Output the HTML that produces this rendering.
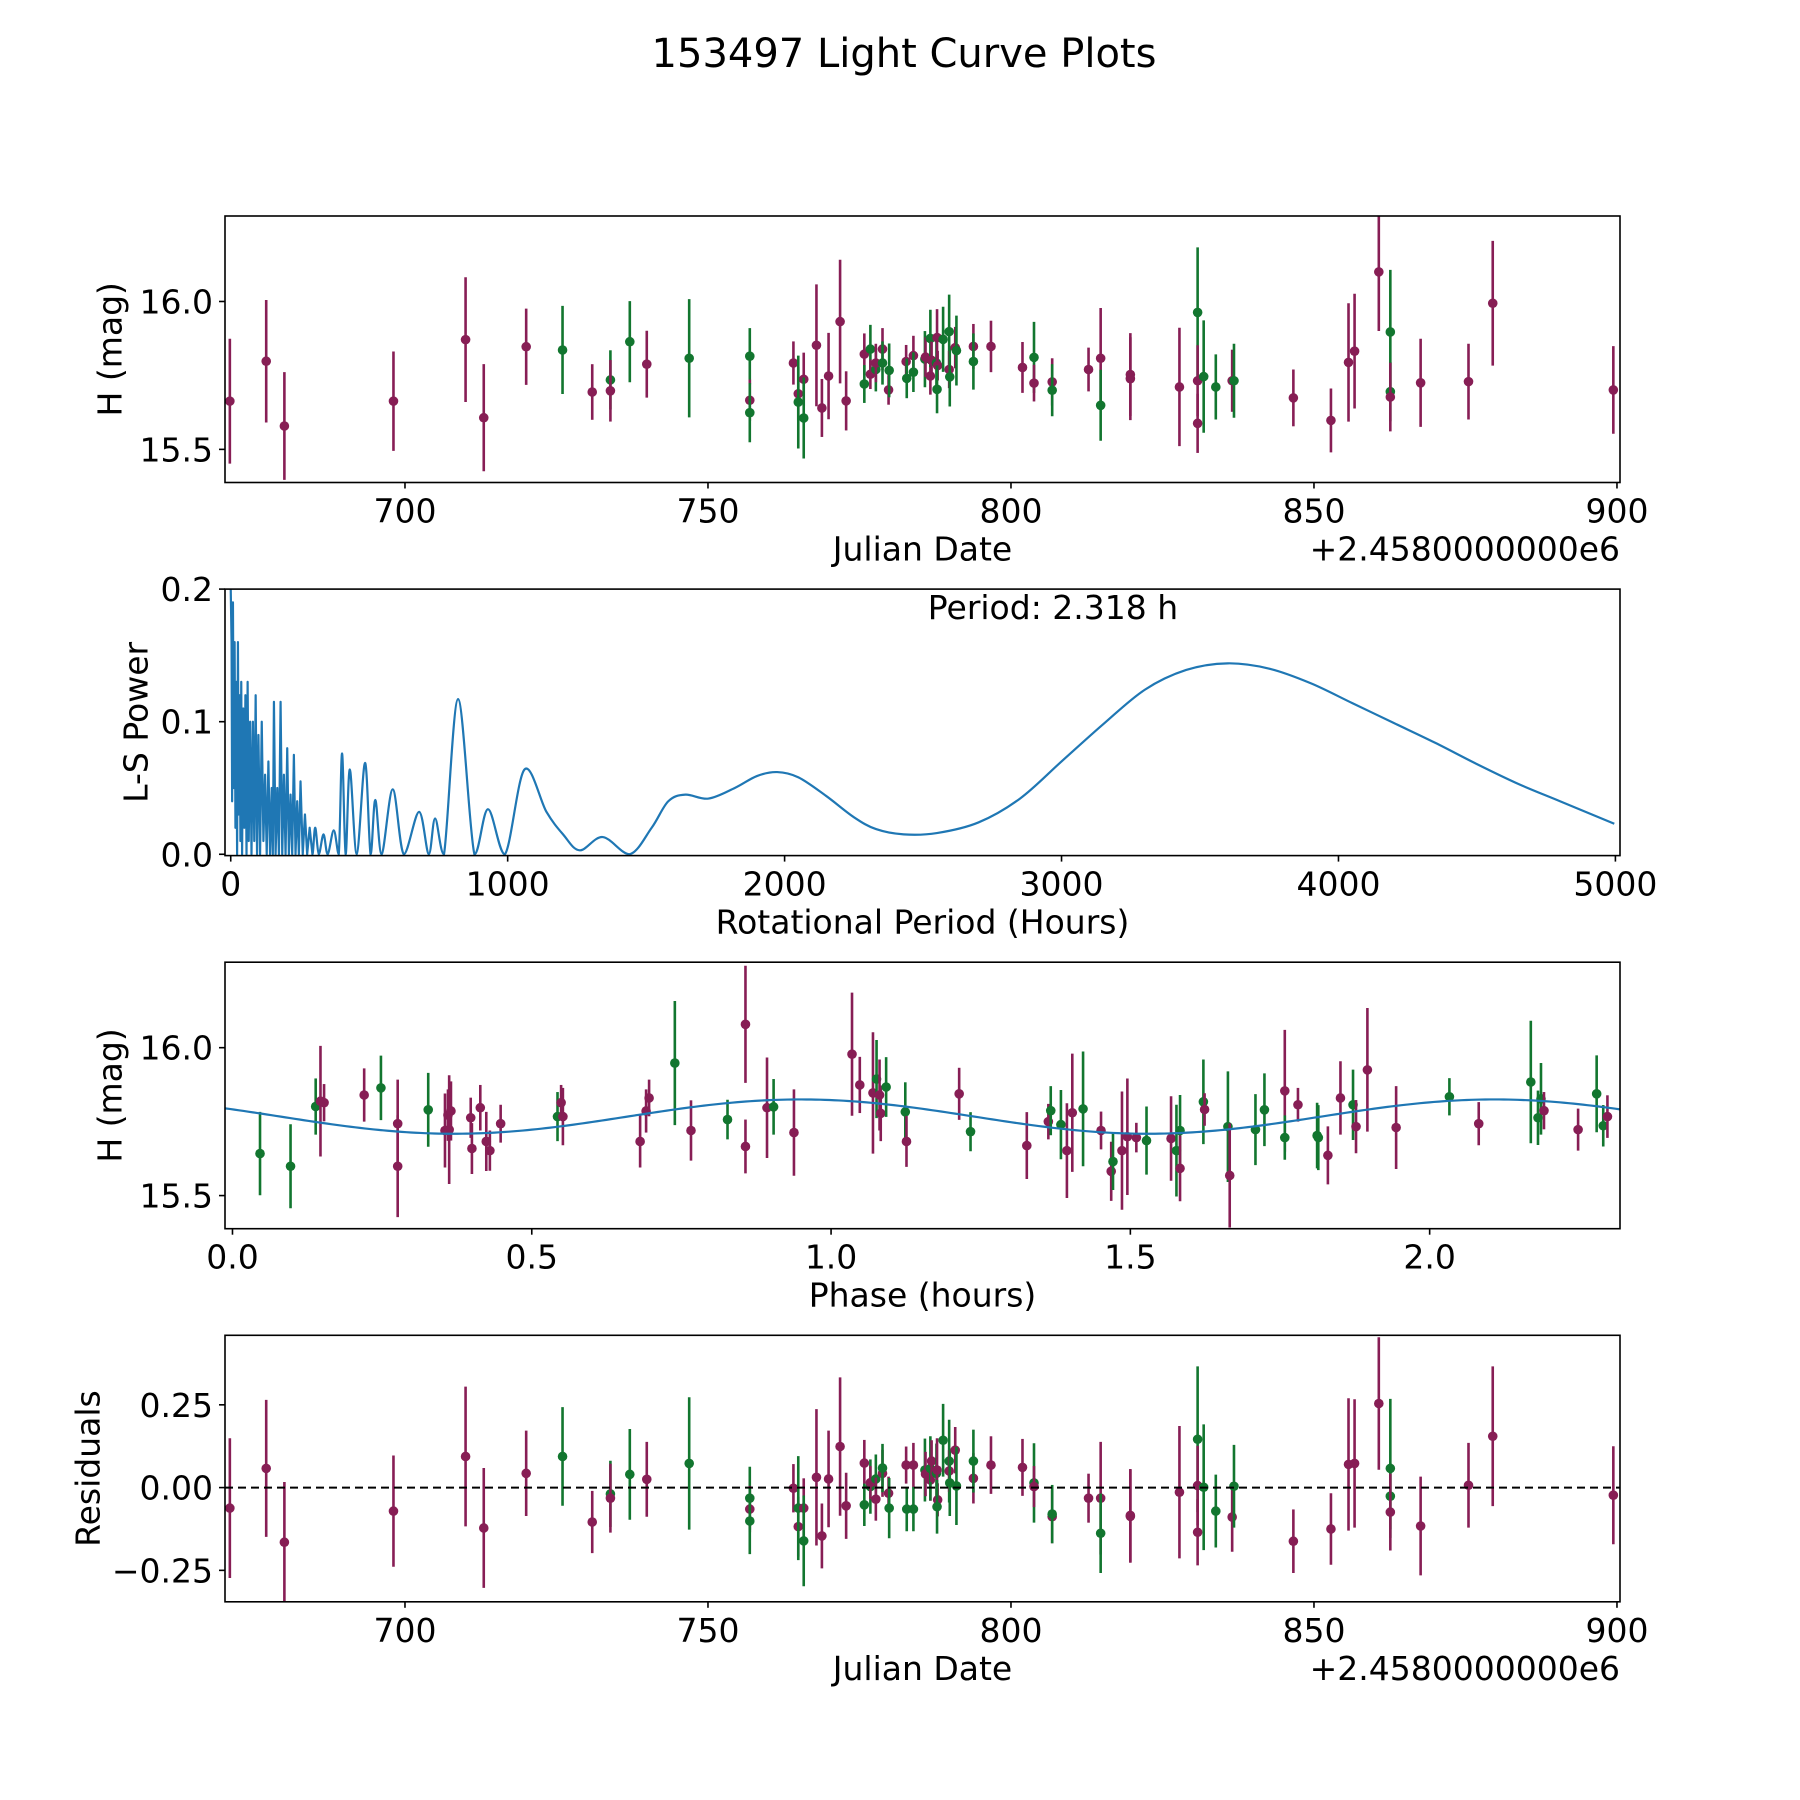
<!DOCTYPE html>
<html><head><meta charset="utf-8"><title>153497 Light Curve Plots</title>
<style>
html,body{margin:0;padding:0;background:#fff;}
svg{display:block;font-family:"DejaVu Sans","Liberation Sans",sans-serif;}
</style></head>
<body>
<svg id="fig" xmlns="http://www.w3.org/2000/svg" width="1800" height="1800" viewBox="0 0 1800 1800">
<rect width="1800" height="1800" fill="#fff"/>
<text x="904" y="67" font-size="40" text-anchor="middle">153497 Light Curve Plots</text>
<defs>
<clipPath id="c1"><rect x="225" y="216" width="1395" height="266.5"/></clipPath>
<clipPath id="c2"><rect x="225" y="589.1" width="1395" height="266.5"/></clipPath>
<clipPath id="c3"><rect x="225" y="962.2" width="1395" height="266.5"/></clipPath>
<clipPath id="c4"><rect x="225" y="1335.3" width="1395" height="266.5"/></clipPath>
</defs>
<g id="layer"></g>
</svg>
<script>
// ---- data: light curve (panel 1) and residuals (panel 4) ----
const jd = [671.1,677.1,680.1,698.1,710.0,713.0,720.0,726.0,730.9,733.9,733.9,737.1,739.9,746.9,756.9,756.9,756.9,
764.1,764.9,764.9,765.8,765.8,767.9,768.8,769.9,771.8,772.8,775.8,775.8,776.8,776.8,777.7,777.7,778.8,778.8,779.8,779.9,
782.7,782.8,783.9,783.9,785.8,785.9,786.7,786.7,786.9,787.7,787.8,787.9,787.8,788.8,789.8,789.8,789.9,790.8,791.0,
793.8,793.8,796.7,801.9,803.8,803.8,806.8,806.8,812.8,
814.8,814.8,819.7,819.7,827.8,830.8,830.8,830.8,831.8,833.8,836.5,836.8,846.6,852.8,855.7,856.7,860.7,862.6,862.6,862.6,867.6,875.5,879.5,899.4];
const mag = [15.663,15.798,15.579,15.663,15.871,15.607,15.847,15.836,15.694,15.735,15.698,15.864,15.788,15.808,15.815,15.666,15.624,
15.792,15.688,15.660,15.737,15.606,15.852,15.640,15.748,15.932,15.664,15.822,15.721,15.839,15.754,15.770,15.792,15.839,15.792,15.701,15.767,
15.797,15.740,15.817,15.761,15.805,15.812,15.748,15.875,15.801,15.792,15.878,15.783,15.703,15.872,15.898,15.770,15.745,15.844,15.834,
15.848,15.797,15.848,15.777,15.811,15.724,15.728,15.700,15.770,
15.808,15.649,15.753,15.739,15.711,15.963,15.732,15.588,15.746,15.711,15.732,15.732,15.674,15.598,15.794,15.832,16.100,15.897,15.695,15.677,15.725,15.729,15.994,15.701];
const magErr = [0.211,0.207,0.182,0.168,0.211,0.181,0.129,0.149,0.094,0.1,0.104,0.137,0.113,0.2,0.095,0.07,0.1,
0.073,0.09,0.157,0.09,0.137,0.206,0.098,0.146,0.209,0.1,0.07,0.064,0.082,0.05,0.074,0.065,0.071,0.073,0.05,0.091,
0.056,0.067,0.067,0.067,0.095,0.067,0.063,0.097,0.063,0.09,0.096,0.05,0.081,0.11,0.125,0.063,0.1,0.07,0.118,
0.076,0.095,0.087,0.086,0.12,0.062,0.08,0.088,0.074,
0.17,0.12,0.14,0.14,0.2,0.22,0.12,0.1,0.19,0.11,0.105,0.125,0.096,0.108,0.2,0.194,0.2,0.21,0.1,0.116,0.149,0.128,0.211,0.148];
const band = ["M","M","M","M","M","M","M","G","M","G","M","G","M","G","G","M","G",
"M","M","G","M","G","M","M","M","M","M","M","G","G","M","G","M","M","G","M","G",
"M","G","M","G","G","M","M","G","M","G","M","M","G","G","G","M","G","M","G",
"M","G","M","M","G","M","M","G","M",
"M","G","M","M","M","G","M","M","G","G","M","G","M","M","M","M","M","G","G","M","M","M","M","M"];
const resid = [-0.062,0.058,-0.165,-0.071,0.094,-0.122,0.043,0.094,-0.104,-0.019,-0.032,0.04,0.025,0.073,-0.032,-0.065,-0.101,
-0.002,-0.118,-0.062,-0.062,-0.161,0.031,-0.146,0.026,0.124,-0.055,0.074,-0.052,0.003,0.015,0.026,-0.035,0.043,0.059,-0.017,-0.062,
0.068,-0.065,0.068,-0.065,0.053,0.041,0.023,0.058,0.08,0.043,0.053,-0.037,-0.058,0.143,0.08,0.05,0.014,0.113,0.005,
0.028,0.08,0.068,0.061,0.014,0.003,-0.088,-0.08,-0.032,
-0.032,-0.138,-0.084,-0.087,-0.014,0.146,0.006,-0.135,0.001,-0.071,-0.089,0.004,-0.162,-0.125,0.07,0.073,0.254,0.058,-0.026,-0.074,-0.116,0.007,0.155,-0.023];

// ---- data: phased light curve (panel 3) ----
const phase = [0.046,0.097,0.139,0.147,0.153,0.22,0.248,0.276,0.276,0.327,0.355,0.36,0.362,0.365,0.398,0.4,0.414,0.424,0.43,0.448,0.543,0.549,0.552,0.681,0.691,0.696,0.739,0.766,
0.827,0.857,0.857,0.893,0.904,0.938,1.035,1.048,1.07,1.076,1.081,1.083,1.092,1.124,1.126,1.214,1.233,1.327,1.363,1.367,1.384,1.394,1.403,1.421,1.451,1.468,1.471,1.486,1.495,1.51,1.527,1.568,
1.577,1.583,1.583,1.622,1.624,1.663,1.666,1.709,1.724,1.758,1.758,1.78,1.812,1.814,1.83,1.851,1.872,1.877,1.896,1.944,2.033,2.082,2.169,2.181,2.186,2.191,2.248,2.279,2.29,2.297];
const phaseMag = [15.642,15.599,15.801,15.819,15.814,15.84,15.864,15.743,15.599,15.79,15.72,15.772,15.723,15.786,15.763,15.659,15.797,15.683,15.652,15.743,15.767,15.814,15.767,15.683,15.786,15.83,15.948,15.72,
15.757,16.079,15.666,15.797,15.8,15.713,15.978,15.874,15.847,15.894,15.84,15.778,15.867,15.783,15.683,15.844,15.716,15.669,15.75,15.787,15.74,15.652,15.78,15.793,15.72,15.582,15.615,15.652,15.699,15.696,15.686,15.693,
15.652,15.72,15.592,15.817,15.791,15.733,15.568,15.723,15.79,15.854,15.696,15.807,15.703,15.696,15.636,15.83,15.807,15.733,15.925,15.73,15.834,15.743,15.884,15.763,15.827,15.787,15.723,15.844,15.736,15.767];
const phaseErr = [0.141,0.142,0.095,0.187,0.063,0.09,0.109,0.149,0.172,0.125,0.125,0.087,0.184,0.1,0.068,0.086,0.077,0.1,0.068,0.064,0.083,0.06,0.097,0.088,0.073,0.062,0.21,0.102,
0.067,0.198,0.091,0.17,0.094,0.146,0.208,0.095,0.205,0.132,0.12,0.094,0.101,0.1,0.086,0.088,0.066,0.113,0.06,0.083,0.117,0.16,0.2,0.194,0.064,0.1,0.096,0.2,0.197,0.05,0.115,0.143,
0.155,0.12,0.111,0.143,0.055,0.187,0.176,0.12,0.123,0.206,0.075,0.057,0.111,0.11,0.098,0.124,0.119,0.09,0.209,0.14,0.063,0.073,0.207,0.092,0.121,0.063,0.071,0.13,0.07,0.072];
const phaseBand = ["G","G","G","M","M","M","G","M","M","G","M","M","M","M","M","M","M","M","M","M","G","M","M","M","M","M","G","M",
"G","M","M","M","G","M","M","M","M","G","M","M","G","G","M","M","G","M","M","G","G","M","M","G","M","M","G","M","M","M","G","M",
"G","G","M","G","M","G","M","G","G","M","G","M","G","G","M","M","G","M","M","M","G","M","G","G","G","M","M","G","G","M"];
// model fit parameters (mean mag, amplitude, minimum phase, half period)
const fitMean = [15.767];
const fitAmp = [0.058];
const fitMinPhase = [0.37];
const fitHalfPeriod = [1.159];

// ---- data: Lomb-Scargle periodogram (panel 2) ----
const lsPeriod = [0,3,5,8,11,14,17,20,23,26,29,32,35,38,41,45,49,53,57,61,65,70,75,80,85,90,95,100,106,112,118,124,130,136,142,148,152,156,162,168,174,180,186,192,198,204,210,216,222,228,234,240,246,252,260,268,276,285,295,
305,318,335,350,372,390,402,415,430,455,485,505,522,545,585,625,680,715,738,770,821,880,929,990,1061,1140,1200,1260,1343,1440,1520,1580,1642,1725,1820,1900,1973,2050,2150,2250,2330,2430,2550,2700,2850,3000,3150,3300,3450,3600,3750,3900,4050,4200,4350,4500,4650,4800,4996];
const lsPower = [0.2,0.16,0.04,0.19,0.05,0.16,0.02,0.13,0.0,0.16,0.03,0.12,0.01,0.13,0.0,0.11,0.02,0.12,0.0,0.13,0.01,0.1,0.0,0.1,0.01,0.12,0.0,0.09,0.0,0.1,0.01,0.06,0.0,0.07,0.0,0.05,0.0,0.115,0.0,0.05,0.0,0.115,0.0,0.06,0.0,0.08,0.0,0.045,0.0,0.075,0.0,0.04,0.0,0.055,0.0,0.03,0.0,0.02,0.0,
0.02,0.0,0.015,0.0,0.018,0.0,0.076,0.0,0.064,0.0,0.069,0.0,0.041,0.0,0.049,0.0,0.032,0.0,0.027,0.0,0.117,0.0,0.034,0.0,0.064,0.032,0.015,0.003,0.013,0.0,0.02,0.04,0.045,0.042,0.05,0.059,0.062,0.058,0.044,0.028,0.019,0.015,0.016,0.024,0.042,0.07,0.098,0.124,0.139,0.144,0.14,0.129,0.114,0.099,0.084,0.068,0.053,0.04,0.023];
const bestPeriod = ["2.318"];

// ---- ticks ----
const jdTicks = [700,750,800,850,900];
const magTicks = [15.5,16.0];
const magTickLabels = ["15.5","16.0"];
const lsXTicks = [0,1000,2000,3000,4000,5000];
const lsYTicks = [0,0.1,0.2];
const lsYTickLabels = ["0.0","0.1","0.2"];
const phaseTicks = [0,0.5,1.0,1.5,2.0];
const phaseTickLabels = ["0.0","0.5","1.0","1.5","2.0"];
const resTicks = [-0.25,0,0.25];
const resTickLabels = ["\u22120.25","0.00","0.25"];

const NS = "http://www.w3.org/2000/svg";
const layer = document.getElementById("layer");
const COL = {M:"#871e55", G:"#12762f"};
const L = 225, W = 1395, H = 266.5;
const TOPS = [216, 589.1, 962.2, 1335.3];
const FS = 33;

function mk(tag, attrs, parent){
  const e = document.createElementNS(NS, tag);
  for (const k in attrs) e.setAttribute(k, attrs[k]);
  (parent||layer).appendChild(e);
  return e;
}
function lin(d0,d1,r0,r1){ return v => r0 + (v-d0)/(d1-d0)*(r1-r0); }

const xJD = lin(670.3, 900.5, L, L+W);
const yMag1 = lin(16.289, 15.388, TOPS[0], TOPS[0]+H);
const xLS = lin(-20.7, 5016.6, L, L+W);
const yLS = lin(0.2, -0.001, TOPS[1], TOPS[1]+H);
const xPh = lin(-0.0125, 2.318, L, L+W);
const yMag3 = lin(16.289, 15.388, TOPS[2], TOPS[2]+H);
const yRes = lin(0.46, -0.345, TOPS[3], TOPS[3]+H);

function axes(i, name){
  const g = mk("g", {});
  
  
  return g;
}
function frame(i, g){
  const r = mk("rect", {x:L, y:TOPS[i], width:W, height:H, fill:"none", stroke:"#000", "stroke-width":1.6}, g);
  
  
}
function xTicks(i, g, vals, labels, sx){
  const b = TOPS[i]+H;
  vals.forEach((v,k)=>{
    const x = sx(v);
    const t = mk("line", {x1:x, x2:x, y1:b, y2:b+6, stroke:"#000", "stroke-width":1.6}, g);
    
    
    const tx = mk("text", {x:x, y:b+40, "font-size":FS, "text-anchor":"middle"}, g);
    
    
    tx.textContent = labels[k];
  });
}
function yTicks(i, g, vals, labels, sy){
  vals.forEach((v,k)=>{
    const y = sy(v);
    const t = mk("line", {x1:L-6, x2:L, y1:y, y2:y, stroke:"#000", "stroke-width":1.6}, g);
    
    
    const tx = mk("text", {x:L-12, y:y+12, "font-size":FS, "text-anchor":"end"}, g);
    
    
    tx.textContent = labels[k];
  });
}
function xLabel(i, g, txt){
  const t = mk("text", {x:L+W/2, y:TOPS[i]+H+78, "font-size":FS, "text-anchor":"middle"}, g);
  
  
  t.textContent = txt;
}
function yLabel(i, g, txt, x){
  const cy = TOPS[i]+H/2;
  const t = mk("text", {x:x, y:cy, "font-size":FS, "text-anchor":"middle", transform:`rotate(-90 ${x} ${cy})`, dy:"0.35em"}, g);
  
  
  t.textContent = txt;
}
function offsetText(i, g){
  const t = mk("text", {x:L+W, y:TOPS[i]+H+78, "font-size":FS, "text-anchor":"end"}, g);
  
  
  t.textContent = "+2.4580000000e6";
}
function errPoints(g, clip, xs, ys, errs, bands, sx, sy){
  const pg = mk("g", {"clip-path":`url(#${clip})`}, g);
  xs.forEach((xv,k)=>{
    const x = sx(xv), c = COL[bands[k]];
    const bar = mk("line", {x1:x, x2:x, y1:sy(ys[k]+errs[k]), y2:sy(ys[k]-errs[k]), stroke:c, "stroke-width":2.6}, pg);
    
    
    const pt = mk("circle", {cx:x, cy:sy(ys[k]), r:4.8, fill:c}, pg);
    
    
  });
}

// Panel 1
{
  const g = axes(0, 'light-curve-panel');
  errPoints(g, "c1", jd, mag, magErr, band, xJD, yMag1);
  frame(0, g);
  xTicks(0, g, jdTicks, jdTicks.map(String), xJD);
  yTicks(0, g, magTicks, magTickLabels, yMag1);
  xLabel(0, g, "Julian Date");
  offsetText(0, g);
  yLabel(0, g, "H (mag)", 110);
}
// Panel 2
{
  const g = axes(1, 'periodogram-panel');
  let d = "";
  const pts = lsPeriod.map((p,k)=>[xLS(p), yLS(lsPower[k])]);
  d += `M${pts[0][0]},${pts[0][1]}`;
  const yb = yLS(0);
  for (let k=1;k<pts.length;k++){
    if (lsPeriod[k] <= 300){ d += ` L${pts[k][0]},${pts[k][1]}`; continue; }
    const p0 = pts[Math.max(k-2,0)], p1 = pts[k-1], p2 = pts[k], p3 = pts[Math.min(k+1,pts.length-1)];
    const c1x = p1[0]+(p2[0]-p0[0])/6, c2x = p2[0]-(p3[0]-p1[0])/6;
    let c1y = p1[1]+(p2[1]-p0[1])/6, c2y = p2[1]-(p3[1]-p1[1])/6;
    c1y = Math.min(c1y, yb); c2y = Math.min(c2y, yb);
    d += ` C${c1x},${c1y} ${c2x},${c2y} ${p2[0]},${p2[1]}`;
  }
  const pg = mk("g", {"clip-path":"url(#c2)"}, g);
  const path = mk("path", {d:d, fill:"none", stroke:"#1f77b4", "stroke-width":2.2, "stroke-linejoin":"round"}, pg);
  
  
  frame(1, g);
  xTicks(1, g, lsXTicks, lsXTicks.map(String), xLS);
  yTicks(1, g, lsYTicks, lsYTickLabels, yLS);
  xLabel(1, g, "Rotational Period (Hours)");
  yLabel(1, g, "L-S Power", 136);
  const t = mk("text", {x:1053, y:619, "font-size":FS, "text-anchor":"middle"}, g);
  
  
  t.textContent = "Period: " + bestPeriod[0] + " h";
}
// Panel 3
{
  const g = axes(2, 'phased-curve-panel');
  errPoints(g, "c3", phase, phaseMag, phaseErr, phaseBand, xPh, yMag3);
  let d = "";
  for (let k=0;k<=300;k++){
    const ph = -0.0125 + k*(2.3305/300);
    const m = fitMean[0] - fitAmp[0]*Math.cos(2*Math.PI*(ph-fitMinPhase[0])/fitHalfPeriod[0]);
    d += (k? " L":"M") + xPh(ph) + "," + yMag3(m);
  }
  const pg = mk("g", {"clip-path":"url(#c3)"}, g);
  const fit = mk("path", {d:d, fill:"none", stroke:"#1f77b4", "stroke-width":2.2}, pg);
  
  
  frame(2, g);
  xTicks(2, g, phaseTicks, phaseTickLabels, xPh);
  yTicks(2, g, magTicks, magTickLabels, yMag3);
  xLabel(2, g, "Phase (hours)");
  yLabel(2, g, "H (mag)", 110);
}
// Panel 4
{
  const g = axes(3, 'residuals-panel');
  errPoints(g, "c4", jd, resid, magErr, band, xJD, yRes);
  const z = mk("line", {x1:L, x2:L+W, y1:yRes(0), y2:yRes(0), stroke:"#000", "stroke-width":2, "stroke-dasharray":"8,5"}, g);
  
  
  frame(3, g);
  xTicks(3, g, jdTicks, jdTicks.map(String), xJD);
  yTicks(3, g, resTicks, resTickLabels, yRes);
  xLabel(3, g, "Julian Date");
  offsetText(3, g);
  yLabel(3, g, "Residuals", 88);
}
</script>
</body></html>
